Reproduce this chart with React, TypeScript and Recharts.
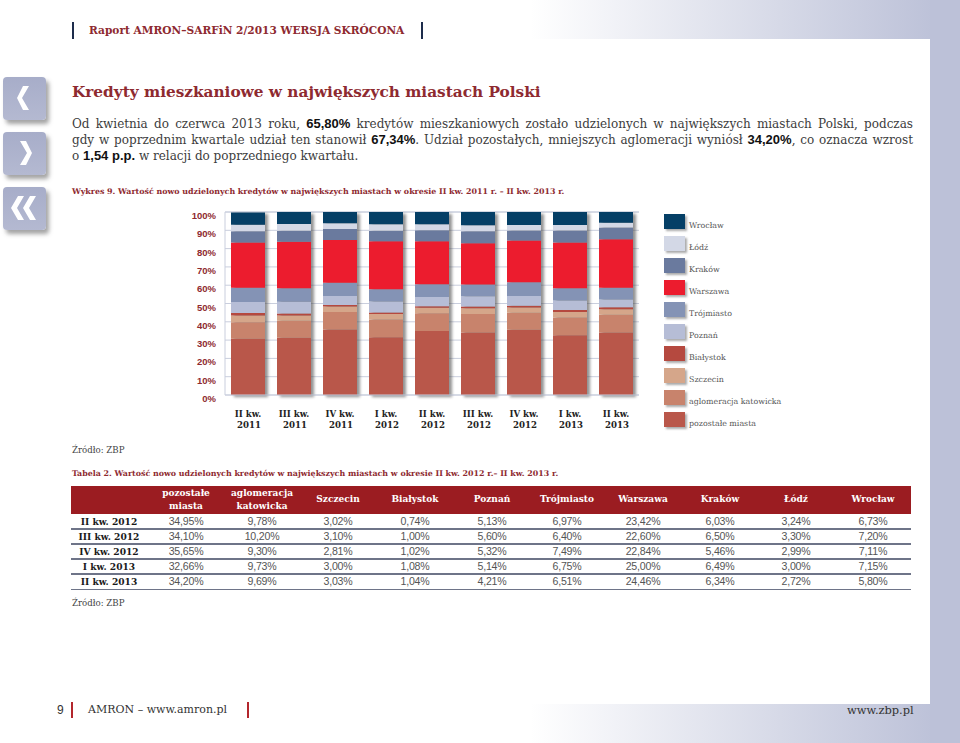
import React from 'react';
import { BarChart, Bar, XAxis, YAxis, CartesianGrid, Legend } from 'recharts';

const quarters = ['II kw. 2011', 'III kw. 2011', 'IV kw. 2011', 'I kw. 2012', 'II kw. 2012', 'III kw. 2012', 'IV kw. 2012', 'I kw. 2013', 'II kw. 2013'];

// bottom to top
const pozostale = [30.7, 31.3, 35.8, 31.5, 34.95, 34.1, 35.65, 32.66, 34.2];
const katowicka = [9.1, 9.3, 9.6, 9.8, 9.78, 10.2, 9.3, 9.73, 9.69];
const szczecin = [3.6, 2.9, 2.9, 2.9, 3.02, 3.1, 2.81, 3.0, 3.03];
const bialystok = [1.4, 1.1, 0.9, 0.9, 0.74, 1.0, 1.02, 1.08, 1.04];
const poznan = [6.0, 6.4, 4.9, 6.0, 5.13, 5.6, 5.32, 5.14, 4.21];
const trojmiasto = [7.8, 7.3, 7.3, 6.7, 6.97, 6.4, 7.49, 6.75, 6.51];
// last bar is drawn taller than the 24,46% in the table
const warszawa = [24.7, 25.5, 23.3, 26.2, 23.42, 22.6, 22.84, 25.0, 26.46];
const krakow = [6.2, 6.0, 6.0, 5.8, 6.03, 6.5, 5.46, 6.49, 6.34];
const lodz = [3.6, 3.6, 3.1, 3.5, 3.24, 3.3, 2.99, 3.0, 2.72];
const wroclaw = [6.7, 6.6, 6.2, 6.7, 6.73, 7.2, 7.11, 7.15, 5.8];

const seriesNames = ['pozostałe miasta', 'aglomeracja katowicka', 'Szczecin', 'Białystok', 'Poznań', 'Trójmiasto', 'Warszawa', 'Kraków', 'Łódź', 'Wrocław'];
const seriesValues = [pozostale, katowicka, szczecin, bialystok, poznan, trojmiasto, warszawa, krakow, lodz, wroclaw];
const seriesColors = ['#b9574a', '#c8836c', '#d5a68a', '#b5493f', '#b6bdd6', '#8493b5', '#ec1c2e', '#6a7a9e', '#d3d8e6', '#053f66'];

const chartData = quarters.map((q, i) => {
  const row: any = { quarter: q, total: 100 };
  seriesNames.forEach((name, s) => { row['s' + s] = seriesValues[s][i]; });
  return row;
});

const tableHead = ['pozostałe\nmiasta', 'aglomeracja\nkatowicka', 'Szczecin', 'Białystok', 'Poznań', 'Trójmiasto', 'Warszawa', 'Kraków', 'Łódź', 'Wrocław'];
const tableQuarters = ['II kw. 2012', 'III kw. 2012', 'IV kw. 2012', 'I kw. 2013', 'II kw. 2013'];
const tableRows = [
  ['34,95%', '9,78%', '3,02%', '0,74%', '5,13%', '6,97%', '23,42%', '6,03%', '3,24%', '6,73%'],
  ['34,10%', '10,20%', '3,10%', '1,00%', '5,60%', '6,40%', '22,60%', '6,50%', '3,30%', '7,20%'],
  ['35,65%', '9,30%', '2,81%', '1,02%', '5,32%', '7,49%', '22,84%', '5,46%', '2,99%', '7,11%'],
  ['32,66%', '9,73%', '3,00%', '1,08%', '5,14%', '6,75%', '25,00%', '6,49%', '3,00%', '7,15%'],
  ['34,20%', '9,69%', '3,03%', '1,04%', '4,21%', '6,51%', '24,46%', '6,34%', '2,72%', '5,80%'],
];
const colCenters = [186, 262, 338, 415, 492, 567, 643, 720, 796, 873];

const SERIF = '"DejaVu Serif", serif';
const SANS = '"Liberation Sans", sans-serif';
const MAROON = '#8e2a30';

const YTick = ({ x, y, payload }: any) => (
  <text x={x - 1} y={y + 7} textAnchor="end" fontFamily={SANS} fontWeight="bold" fontSize={9.5} fill={MAROON}>
    {payload.value}%
  </text>
);

const XTick = ({ x, y, payload }: any) => {
  const parts = String(payload.value).split(' ');
  return (
    <text textAnchor="middle" fontFamily={SERIF} fontWeight="bold" fontSize={8.6} fill="#222">
      <tspan x={x} y={y + 14}>{parts[0]} {parts[1]}</tspan>
      <tspan x={x + 1} y={y + 25}>{parts[2]}</tspan>
    </text>
  );
};

const ShadowBar = ({ x, y, width, height }: any) => (
  <rect x={x + 3} y={y + 2} width={width} height={height} fill="#4a4a4a" opacity={0.6} style={{ filter: 'blur(1.6px)' }} />
);

const LegendList = ({ payload }: any) => {
  const items = (payload || []).filter((p: any) => p.dataKey !== 'total').reverse();
  return (
    <div>
      {items.map((p: any) => (
        <div key={p.value} style={{ display: 'flex', alignItems: 'center', height: 22 }}>
          <div style={{ width: 21, height: 15, background: p.color, boxShadow: '2px 2px 2px rgba(70,70,70,.45)', marginRight: 4 }} />
          <span style={{ fontFamily: SERIF, fontSize: 7.9, color: '#555', whiteSpace: 'nowrap', position: 'relative', top: 4 }}>{p.value}</span>
        </div>
      ))}
    </div>
  );
};

const abs = (left: number, top: number, extra: any = {}): any => ({ position: 'absolute', left, top, ...extra });

const NavButton = ({ top, d }: { top: number; d: string }) => (
  <div style={abs(3, top, { width: 43, height: 43, borderRadius: 4, background: 'linear-gradient(#a7adc9,#b4b9d1)', boxShadow: '3px 4px 4px rgba(90,90,90,.55)' })}>
    <svg width={43} height={43}><path d={d} fill="#fff" /></svg>
  </div>
);

const Line = ({ top, children }: any) => (
  <div style={abs(72, top, { width: 841, fontFamily: SERIF, fontSize: 12, color: '#3c3c3c', textAlign: 'justify', textAlignLast: 'justify', lineHeight: '16px' })}>
    {children}
  </div>
);

const B = ({ children }: any) => <b style={{ fontFamily: SANS, fontWeight: 'bold', color: '#111', fontSize: 13 }}>{children}</b>;

export default function App() {
  return (
    <div style={abs(0, 0, { width: 960, height: 743, overflow: 'hidden', background: '#fff' })}>
      {/* page frame */}
      <div style={abs(530, 0, { width: 430, height: 39, background: 'linear-gradient(90deg,#fff,#bcc1d8 95%)' })} />
      <div style={abs(530, 704, { width: 430, height: 39, background: 'linear-gradient(90deg,#fff,#bcc1d8 95%)' })} />
      <div style={abs(930, 0, { width: 30, height: 743, background: '#bcc1d8' })} />

      <div style={abs(72, 22, { width: 2, height: 17, background: '#1d2c4c' })} />
      <div style={abs(421, 22, { width: 2, height: 17, background: '#1d2c4c' })} />
      <div style={abs(89, 22, { fontFamily: SERIF, fontSize: 10.6, fontWeight: 'bold', color: MAROON, whiteSpace: 'nowrap', lineHeight: '16px' })}>Raport AMRON–SARFiN 2/2013 WERSJA SKRÓCONA</div>

      <NavButton top={77} d="M26 9 L19 21 L26 33 L20 33 L14 21 L20 9 Z" />
      <NavButton top={132} d="M17 9 L24 21 L17 33 L23 33 L29 21 L23 9 Z" />
      <NavButton top={187} d="M21 9 L14 21 L21 33 L15 33 L8 21 L15 9 Z M33 9 L26 21 L33 33 L27 33 L20 21 L27 9 Z" />

      <div style={abs(72, 82, { fontFamily: SERIF, fontSize: 15.3, fontWeight: 'bold', color: MAROON, whiteSpace: 'nowrap', lineHeight: '20px' })}>Kredyty mieszkaniowe w największych miastach Polski</div>

      <Line top={116}>Od kwietnia do czerwca 2013 roku, <B>65,80%</B> kredytów mieszkaniowych zostało udzielonych w największych miastach Polski, podczas</Line>
      <Line top={132}>gdy w poprzednim kwartale udział ten stanowił <B>67,34%</B>. Udział pozostałych, mniejszych aglomeracji wyniósł <B>34,20%</B>, co oznacza wzrost</Line>
      <div style={abs(72, 148, { fontFamily: SERIF, fontSize: 12, color: '#3c3c3c', whiteSpace: 'nowrap', lineHeight: '16px' })}>o <B>1,54 p.p.</B> w relacji do poprzedniego kwartału.</div>

      <div style={abs(72, 185, { fontFamily: SERIF, fontSize: 7.9, fontWeight: 'bold', color: MAROON, whiteSpace: 'nowrap', lineHeight: '14px' })}>Wykres 9. Wartość nowo udzielonych kredytów w największych miastach w okresie II kw. 2011 r. – II kw. 2013 r.</div>

      <div style={abs(175, 200)}>
        <BarChart width={700} height={240} data={chartData} barSize={34} margin={{ top: 12, right: 236, bottom: 0, left: 0 }}>
          <CartesianGrid vertical={false} stroke="#c9cedd" strokeWidth={1} />
          <XAxis dataKey="quarter" height={45} tick={<XTick />} interval={0} axisLine={{ stroke: '#c9cedd' }} tickLine={false} />
          <XAxis xAxisId="shadow" dataKey="quarter" hide />
          <YAxis width={50} domain={[0, 100]} interval={0} ticks={[0, 10, 20, 30, 40, 50, 60, 70, 80, 90, 100]} tick={<YTick />} axisLine={{ stroke: '#c9cedd' }} tickLine={false} />
          <Legend layout="vertical" align="center" verticalAlign="middle" itemSorter={null} content={<LegendList />} wrapperStyle={{ left: 489, top: 10, width: 190 }} />
          <Bar xAxisId="shadow" dataKey="total" legendType="none" isAnimationActive={false} shape={<ShadowBar />} />
          {seriesNames.map((name, s) => (
            <Bar key={name} name={name} dataKey={'s' + s} stackId="a" fill={seriesColors[s]} isAnimationActive={false} />
          ))}
        </BarChart>
      </div>

      <div style={abs(72, 444, { fontFamily: SERIF, fontSize: 8.6, color: '#444', lineHeight: '12px' })}>Źródło: ZBP</div>
      <div style={abs(72, 467, { fontFamily: SERIF, fontSize: 7.9, fontWeight: 'bold', color: MAROON, whiteSpace: 'nowrap', lineHeight: '14px' })}>Tabela 2. Wartość nowo udzielonych kredytów w największych miastach w okresie II kw. 2012 r.– II kw. 2013 r.</div>

      <div style={abs(71, 486, { width: 840, height: 27.5, background: '#9b1c21' })} />
      {tableHead.map((h, c) => (
        <div key={h} style={abs(colCenters[c] - 50, 486, { width: 100, height: 27.5, display: 'flex', alignItems: 'center', justifyContent: 'center', textAlign: 'center', whiteSpace: 'pre-line', fontFamily: SERIF, fontWeight: 'bold', fontSize: 9, lineHeight: '13px', color: '#fff' })}>{h}</div>
      ))}
      {tableRows.map((row, r) => (
        <React.Fragment key={r}>
          <div style={abs(71, 513.5 + r * 15.1, { width: 76, textAlign: 'center', fontFamily: SERIF, fontSize: 9.1, fontWeight: 'bold', color: '#1a1a1a', lineHeight: '15px' })}>{tableQuarters[r]}</div>
          {row.map((v, c) => (
            <div key={c} style={abs(colCenters[c] - 40, 513.5 + r * 15.1, { width: 80, textAlign: 'center', fontFamily: SANS, fontSize: 10.6, letterSpacing: -0.2, color: '#555', lineHeight: '15px' })}>{v}</div>
          ))}
          <div style={abs(71, 513.5 + (r + 1) * 15.1 - 0.5, { width: 840, height: 1.5, background: '#6e7488' })} />
        </React.Fragment>
      ))}
      <div style={abs(72, 597, { fontFamily: SERIF, fontSize: 8.6, color: '#444', lineHeight: '12px' })}>Źródło: ZBP</div>

      <div style={abs(57, 703, { fontFamily: SANS, fontSize: 12, color: '#333', lineHeight: '14px' })}>9</div>
      <div style={abs(71, 702, { width: 1.5, height: 16, background: '#b3262c' })} />
      <div style={abs(88, 703, { fontFamily: SERIF, fontSize: 11, color: '#333', whiteSpace: 'nowrap', lineHeight: '14px' })}>AMRON – www.amron.pl</div>
      <div style={abs(247, 702, { width: 1.5, height: 16, background: '#b3262c' })} />
      <div style={abs(847, 703, { fontFamily: SERIF, fontSize: 11.4, color: '#333', whiteSpace: 'nowrap', lineHeight: '14px' })}>www.zbp.pl</div>
    </div>
  );
}
